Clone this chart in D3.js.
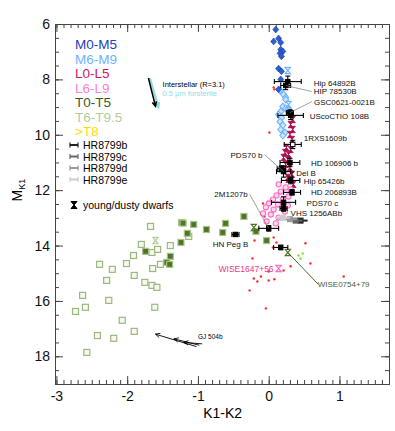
<!DOCTYPE html>
<html>
<head>
<meta charset="utf-8">
<script src="https://cdn.jsdelivr.net/npm/d3@7"></script>
<style>
body { margin: 0; background: #fff; }
text { font-family: "Liberation Sans", Arial, sans-serif; }
</style>
</head>
<body>
<div id="my_dataviz"></div>
<script>
// spectral type groups, [K1-K2, M_K1]
var m0m5 = [[0.10,6.2],[0.07,6.63],[0.14,6.52],[0.17,6.67],[0.17,6.92],[0.20,6.99],[0.16,7.06],[0.18,7.17],[0.14,7.61],[0.18,7.71],[0.17,8.0],[0.14,8.36]];
var m6m9 = [[0.16,8.40],[0.21,8.55],[0.24,8.65],[0.24,8.73],[0.20,8.98],[0.24,9.05],[0.28,9.09],[0.31,9.16],[0.17,9.16],[0.14,9.27],[0.18,9.38],[0.16,9.52],[0.20,9.66],[0.17,9.81],[0.23,9.92],[0.20,10.03],[0.16,11.25]];
var l0l5 = [[0.34,9.45],[0.31,9.63],[0.34,9.81],[0.30,9.99],[0.33,10.17],[0.25,10.46],[0.31,10.53],[0.23,10.64],[0.28,10.71],[0.21,10.82],[0.27,10.89],[0.24,11.07],[0.30,11.18],[0.33,11.43],[0.27,11.54],[0.28,11.61],[0.35,11.79]];
var l6l9 = [[0.14,11.79],[0.24,11.9],[0.31,11.97],[0.17,12.05],[0.11,12.19],[0.28,12.23],[0.06,12.34],[0.20,12.34],[0.0,12.48],[0.13,12.52],[0.27,12.55],[-0.04,12.62],[0.07,12.7],[0.23,12.77],[-0.08,12.84],[0.03,12.88],[0.14,12.99],[-0.03,13.13],[0.10,13.2]];
var t0t5 = [[-1.23,13.17],[-1.21,13.19],[-1.06,13.24],[-0.88,13.42],[-1.15,13.56],[-1.24,13.89],[-1.74,14.21],[-1.39,14.39],[-1.44,14.61],[-1.40,14.68],[-0.61,13.2],[-0.65,13.53],[-0.35,12.95],[-0.18,13.49],[-0.03,13.82]];
var t6t95 = [[-1.67,13.31],[-1.80,13.96],[-1.65,14.25],[-1.57,14.14],[-1.39,14.0],[-1.13,13.67],[-1.64,14.83],[-1.53,14.68],[-1.75,15.33],[-1.65,15.44],[-1.58,15.51],[-1.91,14.36],[-2.39,14.68],[-2.01,14.65],[-2.21,14.86],[-1.90,15.08],[-2.29,15.26],[-2.63,15.8],[-2.26,15.98],[-2.73,16.38],[-2.59,16.23],[-1.61,16.23],[-2.07,16.7],[-1.90,17.1],[-2.42,17.25],[-2.19,17.35],[-2.57,17.86]];
var redDots = [[0.07,8.29],[0.08,8.36],[0.01,9.92],[0.35,11.69],[-0.08,12.48],[-0.06,12.95],[-0.20,13.82],[0.07,13.71],[0.11,13.89],[0.06,14.07],[0.52,13.92],[0.59,14.65],[-0.23,14.47],[0.31,14.75],[0.21,14.9],[0.0,14.94],[-0.11,15.12],[-0.21,15.19],[-0.16,15.3],[0.0,15.26],[0.08,15.22],[-0.27,15.62],[1.06,15.12],[-0.04,16.27],[0.16,14.07]];
var limeDots = [[0.42,14.36],[0.48,14.29],[0.45,14.47]];

// young / dusty dwarfs: [x, y, group]
var young = [[0.27,7.68,"m69"],[0.28,8.91,"m69"],[-0.21,13.35,"t05"],[0.27,14.25,"t05"],[-1.6,13.82,"t69"],[0.14,14.83,"l69"]];

// companions: name, x, y, x err, y err
var compName = ["Hip 64892B","HIP 78530B","GSC0621-0021B","UScoCTIO 108B","1RXS1609b","HD 106906 b","PDS70 b","ζ Del B","Hip 65426b","HD 206893B","PDS70 c","VHS 1256ABb","2M1207b","HN Peg B","WISE0754+79"];
var compX  = [0.27,0.24,0.30,0.31,0.34,0.30,0.21,0.18,0.31,0.33,0.21,0.21,0.0,-0.47,0.17];
var compY  = [8.08,8.22,9.2,9.3,10.35,11.0,11.33,11.22,11.65,12.08,12.44,12.66,13.38,13.6,14.07];
var compXe = [0.19,0.07,0.05,0.18,0.12,0.14,0.10,0.06,0.13,0.12,0.17,0.05,0.14,0.05,0.10];
var compYe = [0.2,0.15,0.1,0.15,0.15,0.15,0.2,0.1,0.12,0.1,0.2,0.1,0.1,0.05,0.08];

// HR 8799 planets
var hrName = ["HR8799b","HR8799c","HR8799d","HR8799e"];
var hrX = [0.45,0.38,0.30,0.20];
var hrY = [13.1,13.1,13.05,13.0];

var legendNames = ["M0-M5","M6-M9","L0-L5","L6-L9","T0-T5","T6-T9.5",">T8"];

var col = {m05:"#2a5fd4", m69:"#6cb4ff", l05:"#a8104f", l69:"#ff6ec4", t05:"#4e7426", t69:"#b6cc9c", y8:"#ffe000"};
var legendCols = ["#1d3fbf","#6cb4ff","#d0155f","#ff80cc","#3b5a1e","#b6cc9c","#ffdd00"];
var hrCols = ["#222","#666","#999","#ccc"];

var W = 395, H = 431;
var margin = {top: 24, right: 6, bottom: 47, left: 55},
    width = W - margin.left - margin.right,
    height = H - margin.top - margin.bottom;

var svg = d3.select("#my_dataviz").append("svg")
    .attr("width", W).attr("height", H)
  .append("g")
    .attr("transform", "translate(" + margin.left + "," + margin.top + ")");

var x = d3.scaleLinear().domain([-3.02, 1.7]).range([0, width]);
var y = d3.scaleLinear().domain([6, 19]).range([0, height]);

// axes, ticks inward
var xMajor = d3.range(-3, 2, 1), xMinor = d3.range(-30, 18, 1).map(function(d){ return d/10; });
var yMajor = d3.range(6, 19, 2), yMinor = d3.range(12, 39, 1).map(function(d){ return d/2; });

function styleAxis(g) {
    g.selectAll("path").attr("stroke", "#444");
    g.selectAll("line").attr("stroke", "#444");
    g.selectAll("text").style("font-size", "14px").attr("fill", "#111");
}
svg.append("g").attr("transform", "translate(0," + height + ")")
    .call(d3.axisBottom(x).tickValues(xMinor).tickSize(-4).tickFormat("").tickSizeOuter(0)).call(styleAxis);
svg.append("g").attr("transform", "translate(0," + height + ")")
    .call(d3.axisBottom(x).tickValues(xMajor).tickSize(-8).tickPadding(7).tickSizeOuter(0)
        .tickFormat(function(d){ return d < 0 ? "-" + Math.abs(d) : d; })).call(styleAxis);
svg.append("g")
    .call(d3.axisTop(x).tickValues(xMinor).tickSize(-4).tickFormat("").tickSizeOuter(0)).call(styleAxis);
svg.append("g")
    .call(d3.axisTop(x).tickValues(xMajor).tickSize(-8).tickFormat("").tickSizeOuter(0)).call(styleAxis);
svg.append("g")
    .call(d3.axisLeft(y).tickValues(yMinor).tickSize(-4).tickFormat("").tickSizeOuter(0)).call(styleAxis);
svg.append("g")
    .call(d3.axisLeft(y).tickValues(yMajor).tickSize(-8).tickPadding(5).tickSizeOuter(0)).call(styleAxis);
svg.append("g").attr("transform", "translate(" + width + ",0)")
    .call(d3.axisRight(y).tickValues(yMinor).tickSize(-4).tickFormat("").tickSizeOuter(0)).call(styleAxis);
svg.append("g").attr("transform", "translate(" + width + ",0)")
    .call(d3.axisRight(y).tickValues(yMajor).tickSize(-8).tickFormat("").tickSizeOuter(0)).call(styleAxis);

// axis titles
svg.append("text")
    .attr("x", x(-0.65)).attr("y", height + 34)
    .attr("text-anchor", "middle").style("font-size", "14px")
    .text("K1-K2");
var yt = svg.append("text")
    .attr("transform", "translate(-33," + y(12) + ") rotate(-90)")
    .attr("text-anchor", "middle").style("font-size", "14px");
yt.append("tspan").text("M");
yt.append("tspan").attr("dy", 3).style("font-size", "9px").text("K1");

// hourglass shape
function hourglass(w, h) {
    return "M" + (-w) + "," + (-h) + "L" + w + "," + (-h) + "L" + (-w) + "," + h + "L" + w + "," + h + "Z";
}
var diamond = "M0,-3.4L3,0L0,3.4L-3,0Z";

// points
function squares(data, fill, stroke) {
    svg.append("g").selectAll("rect").data(data).enter().append("rect")
        .attr("x", function(d){ return x(d[0]) - 3; })
        .attr("y", function(d){ return y(d[1]) - 3; })
        .attr("width", 6).attr("height", 6)
        .attr("fill", fill).attr("stroke", stroke).attr("stroke-width", 1.2);
}
squares(t6t95, "#f4f8ee", "#9cb880");
squares(t0t5, "#4e7426", "#a9c48a");

svg.append("g").selectAll("circle").data(redDots).enter().append("circle")
    .attr("cx", function(d){ return x(d[0]); })
    .attr("cy", function(d){ return y(d[1]); })
    .attr("r", 1.2).attr("fill", "#ff2a2a");
svg.append("g").selectAll("circle").data(limeDots).enter().append("circle")
    .attr("cx", function(d){ return x(d[0]); })
    .attr("cy", function(d){ return y(d[1]); })
    .attr("r", 1.2).attr("fill", "#7de03a");

svg.append("g").selectAll("path").data(m6m9).enter().append("path")
    .attr("transform", function(d){ return "translate(" + x(d[0]) + "," + y(d[1]) + ")"; })
    .attr("d", diamond).attr("fill", "#cfe6ff").attr("stroke", col.m69).attr("stroke-width", 1.1);
svg.append("g").selectAll("path").data(m0m5).enter().append("path")
    .attr("transform", function(d){ return "translate(" + x(d[0]) + "," + y(d[1]) + ")"; })
    .attr("d", diamond).attr("fill", col.m05).attr("stroke", "#1a3a9a").attr("stroke-width", 0.6);

svg.append("g").selectAll("path").data(l0l5).enter().append("path")
    .attr("transform", function(d){ return "translate(" + x(d[0]) + "," + y(d[1]) + ")"; })
    .attr("d", hourglass(2.6, 3.2)).attr("fill", col.l05).attr("stroke", col.l05).attr("stroke-width", 0.8);
svg.append("g").selectAll("circle").data(l6l9).enter().append("circle")
    .attr("cx", function(d){ return x(d[0]); })
    .attr("cy", function(d){ return y(d[1]); })
    .attr("r", 2.6).attr("fill", "#ffd6ee").attr("stroke", col.l69).attr("stroke-width", 1.1);

svg.append("g").selectAll("path").data(young).enter().append("path")
    .attr("transform", function(d){ return "translate(" + x(d[0]) + "," + y(d[1]) + ")"; })
    .attr("d", hourglass(2.6, 3.2))
    .attr("fill", "none").attr("stroke", function(d){ return col[d[2]]; }).attr("stroke-width", 1.2);

// HR 8799 planets
var hrData = hrName.map(function(n, i){ return {x: hrX[i], y: hrY[i], c: hrCols[i]}; });
hrData.forEach(function(d) {
    var g = svg.append("g").attr("stroke", d.c).attr("fill", d.c);
    g.append("line").attr("x1", x(d.x - 0.1)).attr("x2", x(d.x + 0.1)).attr("y1", y(d.y)).attr("y2", y(d.y)).attr("stroke-width", 2);
    g.append("rect").attr("x", x(d.x) - 2.5).attr("y", y(d.y) - 2.5).attr("width", 5).attr("height", 5);
});

// companions with error bars
var comps = compName.map(function(n, i){ return {n: n, x: compX[i], y: compY[i], xe: compXe[i], ye: compYe[i]}; });
comps.forEach(function(d, i) {
    var g = svg.append("g").attr("stroke", "#000").attr("stroke-width", 1.1);
    var cx = x(d.x), cy = y(d.y), x0 = x(d.x - d.xe), x1 = x(d.x + d.xe), y0 = y(d.y - d.ye), y1 = y(d.y + d.ye);
    g.append("line").attr("x1", x0).attr("x2", x1).attr("y1", cy).attr("y2", cy);
    g.append("line").attr("x1", x0).attr("x2", x0).attr("y1", cy - 2.5).attr("y2", cy + 2.5);
    g.append("line").attr("x1", x1).attr("x2", x1).attr("y1", cy - 2.5).attr("y2", cy + 2.5);
    g.append("line").attr("x1", cx).attr("x2", cx).attr("y1", y0).attr("y2", y1);
    g.append("line").attr("x1", cx - 2.5).attr("x2", cx + 2.5).attr("y1", y0).attr("y2", y0);
    g.append("line").attr("x1", cx - 2.5).attr("x2", cx + 2.5).attr("y1", y1).attr("y2", y1);
    g.append("rect").attr("x", cx - 2.2).attr("y", cy - 2.2).attr("width", 4.4).attr("height", 4.4)
        .attr("fill", d.n == "1RXS1609b" ? "#fff" : "#000").attr("stroke-width", 1);
});

// companion labels: [dx, dy, anchor] from the point, leader end if any
var labelPos = {
    "Hip 64892B": [26, 4, "start"],
    "HIP 78530B": [28, 9, "start", true],
    "GSC0621-0021B": [24, -8, "start", true],
    "UScoCTIO 108B": [19, 4, "start"],
    "1RXS1609b": [11, -3, "start"],
    "HD 106906 b": [21, 4, "start"],
    "PDS70 b": [-21, -14, "end", true],
    "ζ Del B": [9, 7, "start"],
    "Hip 65426b": [13, 4, "start"],
    "HD 206893B": [19, 3, "start"],
    "PDS70 c": [23, 4, "start"],
    "VHS 1256ABb": [7, 8, "start"],
    "2M1207b": [-21, -31, "end", true],
    "HN Peg B": [-5, 13, "middle"],
    "WISE0754+79": [37, 40, "start"]
};
comps.forEach(function(d) {
    var p = labelPos[d.n];
    var tx = x(d.x) + p[0], ty = y(d.y) + p[1];
    if (p[3]) {
        var lx = p[2] == "end" ? tx + 2 : tx - 2;
        svg.append("line").attr("x1", x(d.x)).attr("y1", y(d.y))
            .attr("x2", lx).attr("y2", ty - 3)
            .attr("stroke", "#777").attr("stroke-width", 0.7);
    }
    svg.append("text").attr("x", tx).attr("y", ty)
        .attr("text-anchor", p[2]).style("font-size", "8px")
        .attr("fill", d.n == "WISE0754+79" ? "#4a5e3a" : "#111")
        .text(d.n);
});
// WISE0754+79 leader from its dusty point
svg.append("line").attr("x1", x(0.27)).attr("y1", y(14.25)).attr("x2", x(0.7)).attr("y2", y(15.4))
    .attr("stroke", "#3b5a1e").attr("stroke-width", 0.9);
svg.append("text").attr("x", x(0.14) - 5).attr("y", y(14.83) + 3)
    .attr("text-anchor", "end").style("font-size", "8.5px").attr("fill", "#e8388a")
    .text("WISE1647+56");

// reddening vectors
function arrow(x1, y1, x2, y2, color, w) {
    var a = Math.atan2(y2 - y1, x2 - x1), L = 5;
    svg.append("path")
        .attr("d", "M" + x1 + "," + y1 + "L" + x2 + "," + y2 +
            "M" + (x2 - L * Math.cos(a - 0.45)) + "," + (y2 - L * Math.sin(a - 0.45)) + "L" + x2 + "," + y2 +
            "L" + (x2 - L * Math.cos(a + 0.45)) + "," + (y2 - L * Math.sin(a + 0.45)))
        .attr("fill", "none").attr("stroke", color).attr("stroke-width", w);
}
arrow(x(-1.68), y(7.95), x(-1.56), y(9.0), "#8fdde0", 2.2);
arrow(x(-1.70), y(7.95), x(-1.60), y(8.97), "#000", 1.5);
svg.append("text").attr("x", x(-1.5)).attr("y", y(8.26)).style("font-size", "7.5px").text("Interstellar (R=3.1)");
svg.append("text").attr("x", x(-1.5)).attr("y", y(8.6)).style("font-size", "7.5px").attr("fill", "#8fdde0").text("0.5 µm forsterite");

// GJ 504b
arrow(x(-1.02), y(17.65), x(-1.6), y(17.2), "#000", 0.9);
arrow(x(-0.98), y(17.6), x(-1.34), y(17.37), "#000", 0.9);
arrow(x(-0.94), y(17.55), x(-1.2), y(17.5), "#000", 0.9);
svg.append("text").attr("x", x(-1.0)).attr("y", y(17.38)).style("font-size", "6.5px").text("GJ 504b");

// legend: spectral types
svg.append("g").selectAll("text").data(legendNames).enter().append("text")
    .attr("x", 20).attr("y", function(d, i){ return 25 + i * 14.5; })
    .style("font-size", "13.5px")
    .attr("fill", function(d, i){ return legendCols[i]; })
    .text(function(d){ return d; });

// legend: HR 8799 and young dwarfs
hrName.forEach(function(n, i) {
    var ly = 121 + i * 11.5;
    var g = svg.append("g").attr("stroke", hrCols[i]).attr("stroke-width", 1.2);
    g.append("line").attr("x1", 15).attr("x2", 23).attr("y1", ly).attr("y2", ly).attr("stroke-width", 2);
    g.append("line").attr("x1", 15).attr("x2", 15).attr("y1", ly - 2.5).attr("y2", ly + 2.5);
    g.append("line").attr("x1", 23).attr("x2", 23).attr("y1", ly - 2.5).attr("y2", ly + 2.5);
    svg.append("text").attr("x", 28).attr("y", ly + 4).style("font-size", "10.5px").text(n);
});
svg.append("path").attr("transform", "translate(19,181)").attr("d", hourglass(3, 3.5))
    .attr("fill", "#000").attr("stroke", "#000");
svg.append("text").attr("x", 28).attr("y", 185).style("font-size", "10.5px").text("young/dusty dwarfs");
</script>
</body>
</html>
